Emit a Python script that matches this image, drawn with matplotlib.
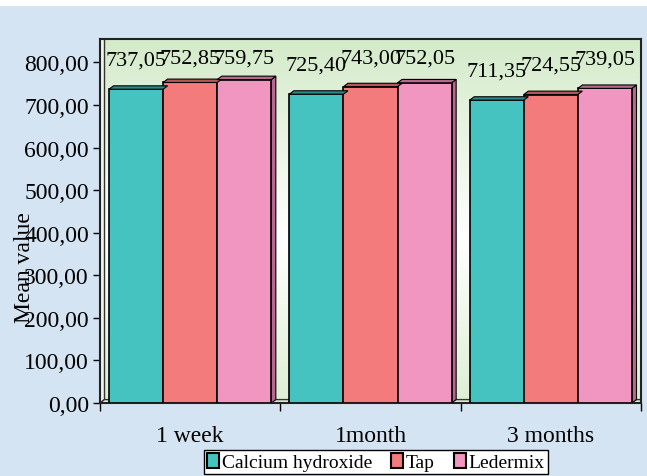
import numpy as np
import matplotlib
matplotlib.use('Agg')
import matplotlib.pyplot as plt
from matplotlib.patches import Polygon, Rectangle, Patch

plt.rcParams['font.family'] = ['Liberation Serif', 'DejaVu Serif']

# Mean values per storage period and medicament
periods = ['1 week', '1month', '3 months']
series = ['Calcium hydroxide', 'Tap', 'Ledermix']
calcium = [737.05, 725.40, 711.35]
tap = [752.85, 743.00, 724.55]
ledermix = [759.75, 752.05, 739.05]
yticks = [0, 100, 200, 300, 400, 500, 600, 700, 800]

face_colors = ['#45c3c0', '#f37b7b', '#f096c0']
top_colors = ['#2b8a87', '#b85555', '#b8688e']
bg_color = '#d5e4f3'

fig = plt.figure(figsize=(6.47, 4.77), dpi=100)
fig.patch.set_facecolor(bg_color)
# thin white strip along the top edge
fig.patches.append(Rectangle((0, 1 - 7 / 477), 1, 7 / 477, transform=fig.transFigure,
                             facecolor='white', edgecolor='none', zorder=0))

ax = fig.add_axes([100 / 647, 73 / 477, 541 / 647, 364 / 477])
ymax = 855
ax.set_xlim(-0.5, 2.5)
ax.set_ylim(0, ymax)

# green-white-green gradient in the plot area
t = np.linspace(0, 1, 256)
w = np.abs(t - 0.55) / 0.55
green = np.array([0.83, 0.92, 0.79])
grad = green[None, :] * w[:, None] + np.ones(3)[None, :] * (1 - w[:, None])
ax.imshow(grad[:, None, :], extent=[-0.5, 2.5, 0, ymax], aspect='auto',
          origin='upper', zorder=0)

dx, dy = 0.025, 8
# left wall and floor of the 3D box
ax.add_patch(Polygon([(-0.5, 0), (-0.5 + dx, dy), (-0.5 + dx, ymax), (-0.5, ymax)],
                     closed=True, facecolor='#eef4ea', edgecolor='#333333', lw=1.0, zorder=1))
ax.add_patch(Polygon([(-0.5, 0), (-0.5 + dx, dy), (2.5, dy), (2.5, 0)],
                     closed=True, facecolor='#e4eede', edgecolor='#333333', lw=1.0, zorder=1))

x = np.arange(len(periods))
width = 0.3
values = [calcium, tap, ledermix]
for i, vals in enumerate(values):
    xs = x + (i - 1) * width
    ax.bar(xs, vals, width=width, color=face_colors[i], edgecolor='black',
           linewidth=1.2, zorder=3)
    for xc, v in zip(xs, vals):
        x0, x1 = xc - width / 2, xc + width / 2
        ax.add_patch(Polygon([(x0, v), (x0 + dx, v + dy), (x1 + dx, v + dy), (x1, v)],
                             closed=True, facecolor=top_colors[i], edgecolor='black',
                             lw=0.8, zorder=4))
        if i == len(values) - 1:
            ax.add_patch(Polygon([(x1, 0), (x1 + dx, dy), (x1 + dx, v + dy), (x1, v)],
                                 closed=True, facecolor=top_colors[i], edgecolor='black',
                                 lw=0.8, zorder=2))
        label = f'{v:.2f}'.replace('.', ',')
        ax.text(xc, min(v + 58, 800), label, ha='center', va='baseline',
                fontsize=16, zorder=5)

for s in ax.spines.values():
    s.set_color('#222222')
    s.set_linewidth(1.5)

ax.set_yticks(yticks)
ax.set_yticklabels([f'{v:.2f}'.replace('.', ',') for v in yticks], fontsize=17)
ax.tick_params(axis='y', direction='out', length=5, width=1, pad=3)

ax.set_xticks(x)
ax.set_xticklabels(periods, fontsize=17)
ax.set_xticks([-0.5, 0.5, 1.5, 2.5], minor=True)
ax.tick_params(axis='x', which='major', length=0, pad=16)
ax.tick_params(axis='x', which='minor', direction='out', length=6, width=1)

fig.text(25 / 647, 1 - 268 / 477, 'Mean value', rotation=90, ha='center',
         va='center', fontsize=17)

handles = [Patch(facecolor=c, edgecolor='black', linewidth=1.5) for c in face_colors]
leg = fig.legend(handles, series, loc='center', bbox_to_anchor=(376 / 647, 1 - 463 / 477),
                 ncol=3, fontsize=14, frameon=True, fancybox=False, framealpha=1,
                 edgecolor='black', handlelength=0.6, handleheight=0.8,
                 handletextpad=0.15, columnspacing=1.0, borderpad=0.15,
                 borderaxespad=0)
leg.get_frame().set_linewidth(1.0)

fig.savefig('out.png', dpi=100, facecolor=fig.get_facecolor())
